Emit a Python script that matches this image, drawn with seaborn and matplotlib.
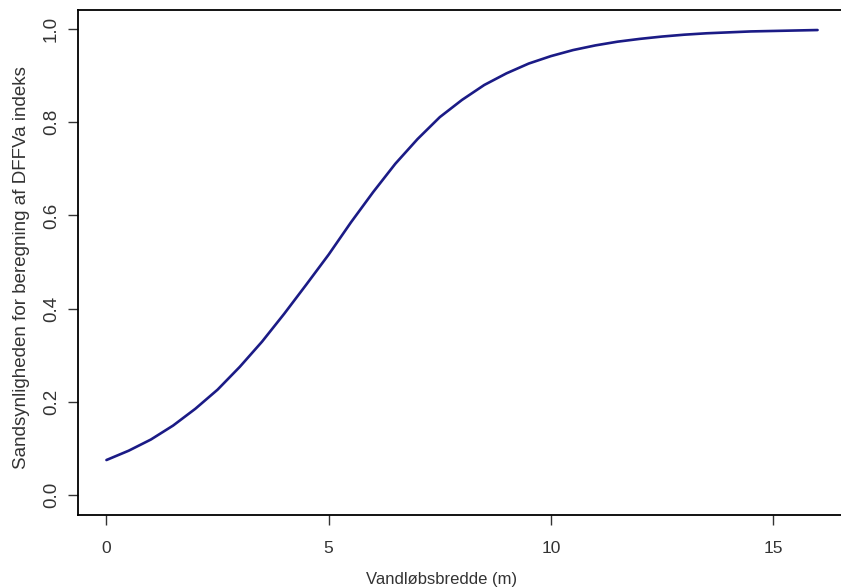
import numpy as np
import pandas as pd
import matplotlib
matplotlib.use("Agg")
import matplotlib.pyplot as plt
import seaborn as sns

# ----------------------------
# Data
# ----------------------------
width_m = [0, 0.5, 1, 1.5, 2, 2.5, 3, 3.5, 4, 4.5, 5, 5.5, 6, 6.5, 7, 7.5, 8,
           8.5, 9, 9.5, 10, 10.5, 11, 11.5, 12, 12.5, 13, 13.5, 14, 14.5, 15,
           15.5, 16]
probability = [0.075, 0.095, 0.119, 0.149, 0.185, 0.226, 0.275, 0.329, 0.389,
               0.452, 0.516, 0.585, 0.650, 0.711, 0.764, 0.811, 0.848, 0.880,
               0.905, 0.926, 0.942, 0.955, 0.965, 0.973, 0.979, 0.984, 0.988,
               0.991, 0.993, 0.995, 0.996, 0.997, 0.998]
x_ticks = [0, 5, 10, 15]
y_ticks = [0.0, 0.2, 0.4, 0.6, 0.8, 1.0]
y_tick_labels = ["0.0", "0.2", "0.4", "0.6", "0.8", "1.0"]

df = pd.DataFrame({"width": width_m, "prob": probability})

# ----------------------------
# Plot
# ----------------------------
sns.set_style("ticks")
plt.rcParams["font.family"] = ["Liberation Sans", "DejaVu Sans"]

fig = plt.figure(figsize=(8.41, 5.88), dpi=100)
ax = fig.add_axes([78 / 841, 73 / 588, 768 / 841, 505 / 588])

sns.lineplot(data=df, x="width", y="prob", ax=ax, color="#1b1b86",
             linewidth=1.9)

ax.set_xlim(-0.64, 16.64)
ax.set_ylim(-0.043, 1.041)
ax.set_xticks(x_ticks)
ax.set_yticks(y_ticks)
ax.set_yticklabels(y_tick_labels, rotation=90, va="center")
ax.tick_params(axis="both", direction="out", length=7, width=1.0,
               color="#333333", labelcolor="#333333")
ax.tick_params(axis="x", labelsize=12.5, pad=12)
ax.tick_params(axis="y", labelsize=13.5, pad=6)

for side in ["left", "right", "top", "bottom"]:
    ax.spines[side].set_visible(True)
    ax.spines[side].set_color("black")
    ax.spines[side].set_linewidth(1.3)

ax.set_xlabel("Vandløbsbredde (m)", fontsize=12, color="#333333")
ax.set_ylabel("Sandsynligheden for beregning af DFFVa indeks", fontsize=13.5,
              color="#333333")
ax.xaxis.set_label_coords(0.473, -0.112)
ax.yaxis.set_label_coords(-0.062, 0.49)

fig.savefig("out.png", dpi=100)
